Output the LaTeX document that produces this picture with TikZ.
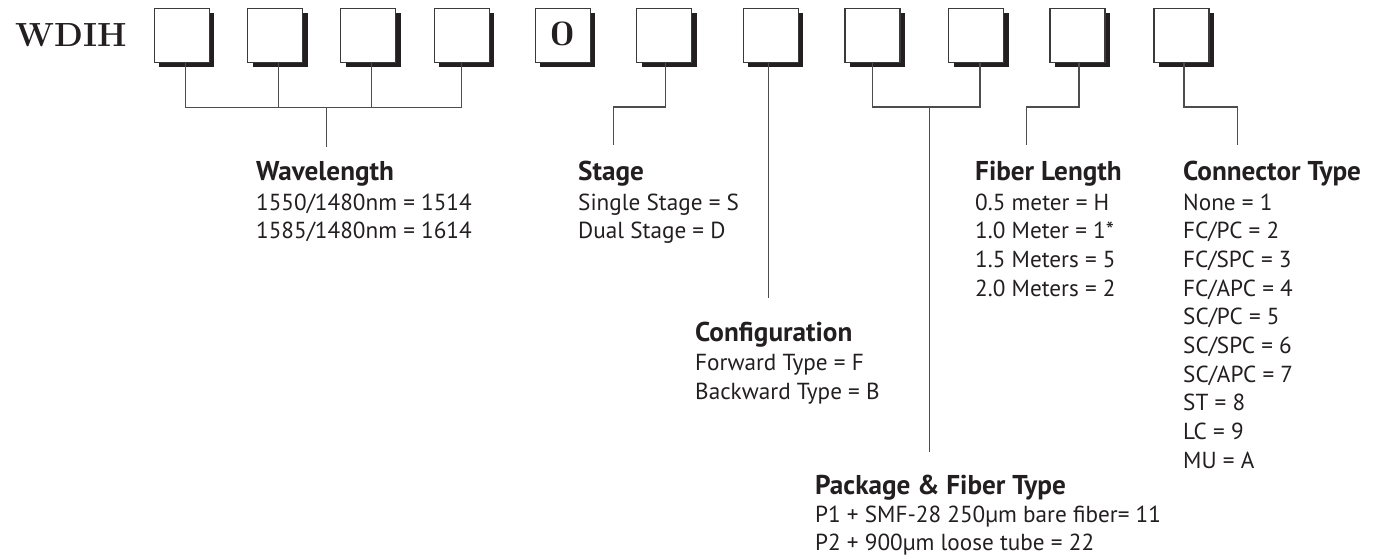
\documentclass[tikz,border=0pt]{standalone}
\usepackage{fontspec}
\newfontfamily\bodyfont{PT Sans}
\newfontfamily\lmfont{Latin Modern Roman}
\usetikzlibrary{shadows,calc}
\definecolor{ink}{HTML}{231F20}
\definecolor{wire}{HTML}{4D4D4D}
\definecolor{frame}{HTML}{3A3A3A}
\tikzset{
  codebox/.style={rectangle, draw=frame, line width=1.2pt, fill=white,
    minimum width=55pt, minimum height=54pt, inner sep=0pt,
    general shadow={shadow xshift=5pt, shadow yshift=-5pt, fill=ink, draw=none}},
  conn/.style={draw=wire, line width=1.4pt},
  head/.style={anchor=base west, inner sep=0pt, text=ink,
    font=\bodyfont\bfseries\fontsize{27.2}{31}\selectfont},
  body/.style={anchor=base west, inner sep=0pt, text=ink,
    font=\bodyfont\fontsize{23.2}{27}\selectfont},
}
\begin{document}
\begin{tikzpicture}[x=1pt,y=-1pt]
\useasboundingbox (0,0) rectangle (1386,558);
% title
\node[anchor=base west, inner sep=0pt, text=ink,
  font=\lmfont\bfseries\fontsize{33.5}{38}\selectfont] (title) at (15,46.7) {WDIH};
% boxes
\node[codebox] (b1)  at (181.7,35.3) {};
\node[codebox] (b2)  at (275.0,35.3) {};
\node[codebox] (b3)  at (368.2,35.3) {};
\node[codebox] (b4)  at (461.7,35.3) {};
\node[codebox] (b5) at (562.9,35.3) {};
\node[anchor=base, inner sep=0pt, text=ink,
  font=\lmfont\bfseries\fontsize{36}{40}\selectfont] (zero) at (562.9,45.7) {\scalebox{1.2}[1]{0}};
\node[codebox] (b6)  at (664.2,35.3) {};
\node[codebox] (b7)  at (770.8,35.3) {};
\node[codebox] (b8)  at (872.5,35.3) {};
\node[codebox] (b9)  at (976.2,35.3) {};
\node[codebox] (b10) at (1077.5,35.3) {};
\node[codebox] (b11) at (1181.5,35.3) {};
% tap points under the boxes
\coordinate (t1) at ([xshift=4pt]b1.south);
\coordinate (t2) at ([xshift=3.5pt]b2.south);
\coordinate (t3) at ([xshift=3pt]b3.south);
\coordinate (t4) at (b4.south);
\coordinate (t6) at ([xshift=1.5pt]b6.south);
\coordinate (t7) at ([xshift=-2.5pt]b7.south);
\coordinate (t8) at (b8.south);
\coordinate (t9) at ([xshift=3.8pt]b9.south);
\coordinate (t10) at ([xshift=1.5pt]b10.south);
\coordinate (t11) at ([xshift=2.5pt]b11.south);
% junction coordinates
\coordinate (wlj) at (326.7,107.3);
\coordinate (wle) at (326.7,146.7);
\coordinate (stj) at (613.7,107);
\coordinate (ste) at (613.7,145);
\coordinate (cfe) at (768.3,298);
\coordinate (pkj) at (929.3,107);
\coordinate (pke) at (929.3,452);
\coordinate (flj) at (1026.7,107);
\coordinate (fle) at (1026.7,145);
\coordinate (ctj) at (1237.7,107);
\coordinate (cte) at (1237.7,145);
% connectors
\draw[conn] (t1) |- (wlj -| t4) -- (t4);
\draw[conn] (t2) -- (t2 |- wlj);
\draw[conn] (t3) -- (t3 |- wlj);
\draw[conn] (wlj) -- (wle);
\draw[conn] (t6) |- (stj) -- (ste);
\draw[conn] (t7) -- (t7 |- cfe);
\draw[conn] (t8) |- (pkj -| t9) -- (t9);
\draw[conn] (pkj) -- (pke);
\draw[conn] (t10) |- (flj) -- (fle);
\draw[conn] (t11) |- (ctj) -- (cte);
% Wavelength
\node[head] (wlh) at (256,180.5) {Wavelength};
\node[body] (wl1) at (256,210) {1550/1480nm = 1514};
\node[body] (wl2) at (256,238.7) {1585/1480nm = 1614};
% Stage
\node[head] (sth) at (578,180.5) {Stage};
\node[body] (st1) at (578,210) {Single Stage = S};
\node[body] (st2) at (578,238.7) {Dual Stage = D};
% Configuration
\node[head] (cfh) at (695,341) {Configuration};
\node[body] (cf1) at (695,370) {Forward Type = F};
\node[body] (cf2) at (695,399) {Backward Type = B};
% Package
\node[head] (pkh) at (815,494) {Package \& Fiber Type};
\node[body] (pk1) at (815,522.5) {P1 + SMF-28 250µm bare fiber= 11};
\node[body] (pk2) at (815,550.5) {P2 + 900µm loose tube = 22};
% Fiber length
\node[head] (flh) at (975,180.5) {Fiber Length};
\node[body] (fl1) at (975,210) {0.5 meter = H};
\node[body] (fl2) at (975,238.7) {1.0 Meter = 1*};
\node[body] (fl3) at (975,267.4) {1.5 Meters = 5};
\node[body] (fl4) at (975,296.1) {2.0 Meters = 2};
% Connector type
\node[head] (cth) at (1183,180.5) {Connector Type};
\node[body] (ct1)  at (1183,210.0) {None = 1};
\node[body] (ct2)  at (1183,238.7) {FC/PC = 2};
\node[body] (ct3)  at (1183,267.4) {FC/SPC = 3};
\node[body] (ct4)  at (1183,296.1) {FC/APC = 4};
\node[body] (ct5)  at (1183,324.8) {SC/PC = 5};
\node[body] (ct6)  at (1183,353.5) {SC/SPC = 6};
\node[body] (ct7)  at (1183,382.2) {SC/APC = 7};
\node[body] (ct8)  at (1183,410.9) {ST = 8};
\node[body] (ct9)  at (1183,439.6) {LC = 9};
\node[body] (ct10) at (1183,468.3) {MU = A};
\end{tikzpicture}
\end{document}
